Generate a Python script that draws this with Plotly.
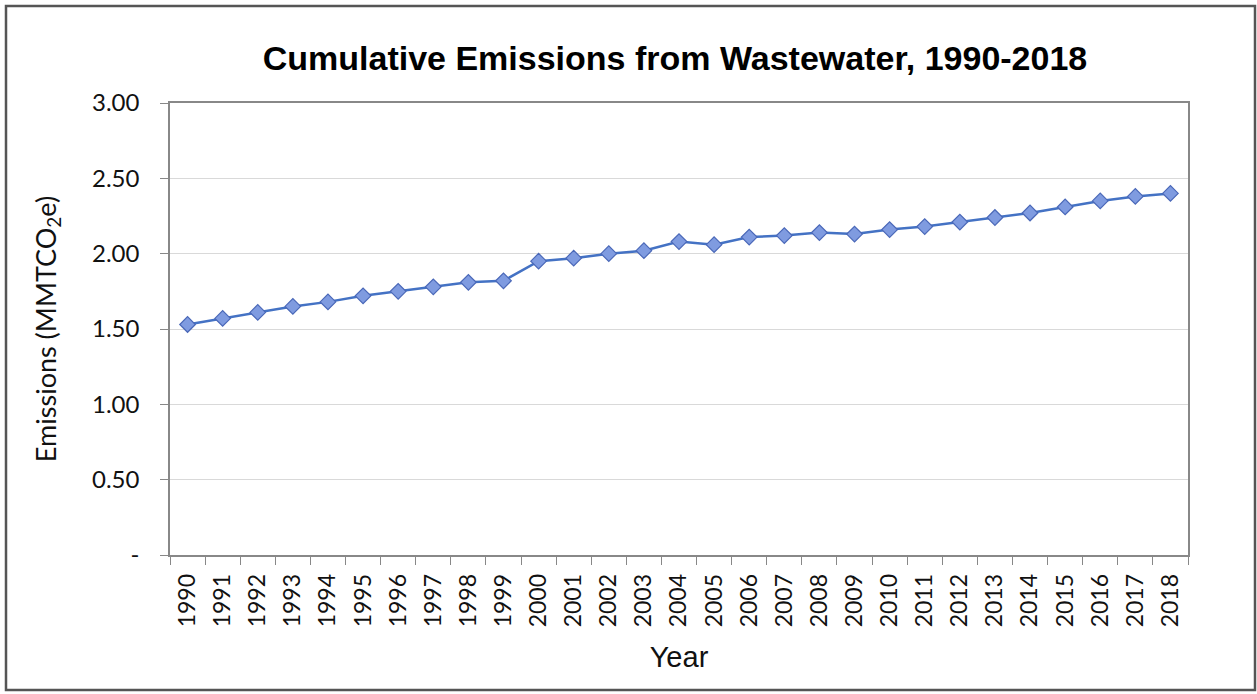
import plotly.graph_objects as go

years = [str(y) for y in range(1990, 2019)]
emissions = [1.53, 1.57, 1.61, 1.65, 1.68, 1.72, 1.75, 1.78, 1.81, 1.82,
             1.95, 1.97, 2.00, 2.02, 2.08, 2.06, 2.11, 2.12, 2.14, 2.13,
             2.16, 2.18, 2.21, 2.24, 2.27, 2.31, 2.35, 2.38, 2.40]
y_tickvals = [0, 0.5, 1.0, 1.5, 2.0, 2.5, 3.0]
y_ticktext = ["-", "0.50", "1.00", "1.50", "2.00", "2.50", "3.00"]

W, H = 1257, 694
L, R, T, B = 170, 69, 103, 139

fig = go.Figure()
fig.add_trace(go.Scatter(
    x=years, y=emissions, mode="lines+markers",
    line=dict(color="#4472C4", width=2.5),
    marker=dict(symbol="diamond", size=12, color="#7F9BE0",
                line=dict(color="#4A68B8", width=1.2)),
    showlegend=False,
))

pw, ph = W - L - R, H - T - B
# outer frame around the whole chart
fig.add_shape(type="rect", xref="paper", yref="paper",
              x0=(6 - L) / pw, x1=(1255 - L) / pw,
              y0=(H - 690 - B) / ph, y1=(H - 6 - B) / ph,
              line=dict(color="#555555", width=2.5), layer="below")

fig.update_layout(
    width=W, height=H,
    margin=dict(l=L, r=R, t=T, b=B),
    paper_bgcolor="white", plot_bgcolor="white",
    font=dict(family="Lato, Open Sans, sans-serif", color="#111111"),
    title=dict(text="<b>Cumulative Emissions from Wastewater, 1990-2018</b>",
               x=675 / W, xanchor="center", y=1 - 58 / H, yanchor="middle",
               font=dict(family="Liberation Sans, Arial, sans-serif", size=34, color="#000000")),
    xaxis=dict(
        type="category", categoryorder="array", categoryarray=years,
        range=[-0.5, len(years) - 0.5],
        tickson="boundaries", ticks="outside", ticklen=8, tickcolor="#888888",
        tickangle=-90, tickfont=dict(size=23), ticklabelstandoff=8,
        showline=True, linecolor="#888888", linewidth=1.5, mirror=True,
        showgrid=False,
        title=dict(text="Year", font=dict(family="Liberation Sans, Arial, sans-serif", size=29), standoff=20),
    ),
    yaxis=dict(
        range=[0, 3.0], tickvals=y_tickvals, ticktext=y_ticktext,
        ticks="outside", ticklen=8, tickcolor="#888888",
        tickfont=dict(size=24), ticklabelstandoff=16,
        showline=True, linecolor="#888888", linewidth=1.5, mirror=True,
        showgrid=True, gridcolor="#D9D9D9", gridwidth=1.2,
        zeroline=False,
        title=dict(text="Emissions (MMTCO<sub>2</sub>e)", font=dict(size=27), standoff=28),
    ),
)

fig.write_html("out.html")
